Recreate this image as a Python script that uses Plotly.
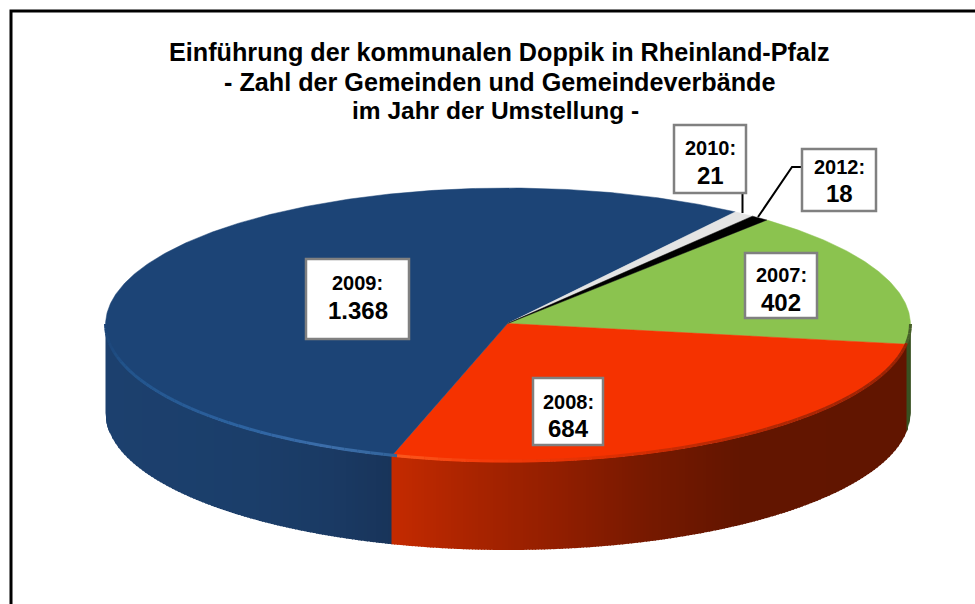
import math
import plotly.graph_objects as go

# Data
years = ["2007", "2008", "2009", "2010", "2012"]
values = [402, 684, 1368, 21, 18]
value_labels = ["402", "684", "1.368", "21", "18"]
title_lines = [
    "Einführung der kommunalen Doppik in Rheinland-Pfalz",
    "- Zahl der Gemeinden und Gemeindeverbände",
    "im Jahr der Umstellung -",
]

# Style
top_colors = ["#8BC34F", "#F53200", "#1C4476", "#E4E4E4", "#000000"]
# side colour stops per slice, as (pixel x, rgb)
side_stops = {
    0: [(890, (70, 95, 40)), (910, (55, 80, 32))],
    1: [(392, (196, 42, 0)), (470, (170, 36, 0)), (560, (145, 30, 0)), (650, (118, 25, 0)), (740, (98, 21, 0)), (910, (97, 21, 0))],
    2: [(105, (28, 64, 110)), (250, (27, 62, 106)), (330, (26, 58, 100)), (392, (24, 52, 90))],
    3: [(0, (150, 150, 150)), (975, (150, 150, 150))],
    4: [(0, (0, 0, 0)), (975, (0, 0, 0))],
}
rim_stops = {
    0: [(890, (90, 120, 50)), (910, (70, 95, 40))],
    1: [(392, (252, 90, 30)), (480, (246, 60, 10)), (600, (225, 48, 2)), (700, (190, 42, 4)), (910, (150, 35, 5))],
    2: [(105, (28, 68, 118)), (125, (34, 84, 140)), (250, (46, 100, 162)), (330, (60, 110, 170)), (392, (50, 100, 155))],
    3: [(0, (200, 200, 200)), (975, (200, 200, 200))],
    4: [(0, (0, 0, 0)), (975, (0, 0, 0))],
}

# Geometry of the tilted disc (pixels)
CX, CY, RX, RY, DEPTH = 508.0, 325.0, 402.5, 137.0, 88.0
APEX = (507.5, 323.5)
START_DEG = 50.0


def pt(deg, dy=0.0):
    a = math.radians(deg)
    return CX + RX * math.cos(a), CY - RY * math.sin(a) + dy


def front_y(x, dy=0.0):
    u = max(-1.0, min(1.0, (x - CX) / RX))
    return CY + RY * math.sqrt(1 - u * u) + dy


def blend(stops, x):
    if x <= stops[0][0]:
        return stops[0][1]
    for (x0, c0), (x1, c1) in zip(stops, stops[1:]):
        if x <= x1:
            f = (x - x0) / (x1 - x0)
            return tuple(c0[i] + (c1[i] - c0[i]) * f for i in range(3))
    return stops[-1][1]


def rgb(c):
    return "rgb(%d,%d,%d)" % tuple(round(v) for v in c)


total = sum(values)
bounds = [START_DEG]
for v in values:
    bounds.append(bounds[-1] - v / total * 360.0)

# x positions where one slice's front wall meets the next (green/red, red/blue)
seam_green_red = pt(bounds[1])[0]
seam_red_blue = pt(bounds[2])[0]


def slice_at_x(x):
    if x >= seam_green_red:
        return 0
    if x >= seam_red_blue:
        return 1
    return 2


fig = go.Figure()

# Side wall, drawn left to right as narrow overlapping strips
x_left, x_right = CX - RX, CX + RX
grid = [x_left + 0.5 * j for j in range(8)]
xv = grid[-1]
while xv < x_right - 3:
    xv += 3.0
    grid.append(xv)
grid += [x_right - 1.5 + 0.5 * j for j in range(4)] + [seam_green_red, seam_red_blue]
grid = sorted(set(grid))

for x0, x1 in zip(grid, grid[1:]):
    i = slice_at_x((x0 + x1) / 2)
    col = rgb(blend(side_stops[i], (x0 + x1) / 2))
    x1b = min(x_right, x1 + 1.0)
    fig.add_trace(go.Scatter(
        x=[x0, x1b, x1b, x0, x0],
        y=[front_y(x0), front_y(x1b), front_y(x1b, DEPTH), front_y(x0, DEPTH), front_y(x0)],
        mode="lines", fill="toself", fillcolor=col,
        line=dict(width=0), hoverinfo="skip", showlegend=False))

# Top surface wedges
for i, col in enumerate(top_colors):
    hi, lo = bounds[i], bounds[i + 1]
    m = max(2, int((hi - lo) / 0.5))
    arc = [pt(hi + (lo - hi) * j / m) for j in range(m + 1)]
    xs = [APEX[0]] + [p[0] for p in arc] + [APEX[0]]
    ys = [APEX[1]] + [p[1] for p in arc] + [APEX[1]]
    fig.add_trace(go.Scatter(
        x=xs, y=ys, mode="lines", fill="toself", fillcolor=col,
        line=dict(color=col, width=0.5), hoverinfo="skip", showlegend=False))

# Bevel highlight along the front rim
n = 90
for k in range(n):
    d0 = 180 + k * 2.0
    d1 = d0 + 2.0
    p0, p1 = pt(d0, -1), pt(d1, -1)
    xm = (p0[0] + p1[0]) / 2
    i = slice_at_x(xm)
    fig.add_trace(go.Scatter(
        x=[p0[0], p1[0]], y=[p0[1], p1[1]], mode="lines",
        line=dict(color=rgb(blend(rim_stops[i], xm)), width=3),
        hoverinfo="skip", showlegend=False))

# Leader lines
leader_x = [[742.5, 742.5], [802, 792, 758]]
leader_y = [[193, 213], [167, 167, 217]]
for lx, ly in zip(leader_x, leader_y):
    fig.add_trace(go.Scatter(x=lx, y=ly, mode="lines", line=dict(color="black", width=2),
                             hoverinfo="skip", showlegend=False))

shapes = [dict(type="path", path="M 975 11 L 11 11 L 11 604", line=dict(color="black", width=3),
               xref="x", yref="y")]
annotations = []


def text(x, y, s, size, bold=True):
    annotations.append(dict(
        x=x, y=y, xref="x", yref="y", text=f"<b>{s}</b>" if bold else s, showarrow=False,
        font=dict(family="Liberation Sans", size=size, color="black"),
        xanchor="center", yanchor="middle"))


title_y = [52, 82, 110]
title_x = [499, 499, 495]
title_sizes = [25.2, 25.2, 24.5]
for s, x, y, sz in zip(title_lines, title_x, title_y, title_sizes):
    text(x, y, s, sz)

# label boxes: x0, y0, x1, y1 per year, and the text rows in each box
boxes = [(745, 253, 817, 318), (533, 378, 603, 445), (306, 259, 409, 339),
         (674, 125, 746, 193), (802, 149, 876, 211)]
label_rows = [275, 402, 283, 148, 167]
value_rows = [302, 428, 310, 175, 193]
for yr, lab, box, ly, vy in zip(years, value_labels, boxes, label_rows, value_rows):
    x0, y0, x1, y1 = box
    shapes.append(dict(type="rect", x0=x0, y0=y0, x1=x1, y1=y1, xref="x", yref="y",
                       fillcolor="white", line=dict(color="#808080", width=2.5), layer="above"))
    xm = (x0 + x1) / 2
    text(xm, ly, yr + ":", 20)
    text(xm, vy, lab, 24)

fig.update_layout(
    width=975, height=604, margin=dict(l=0, r=0, t=0, b=0),
    paper_bgcolor="white", plot_bgcolor="white", showlegend=False,
    xaxis=dict(range=[0, 975], visible=False, fixedrange=True),
    yaxis=dict(range=[604, 0], visible=False, fixedrange=True),
    shapes=shapes, annotations=annotations,
)
fig.write_html("out.html", config={"displayModeBar": False},
               post_script="document.body.style.margin='0';")
